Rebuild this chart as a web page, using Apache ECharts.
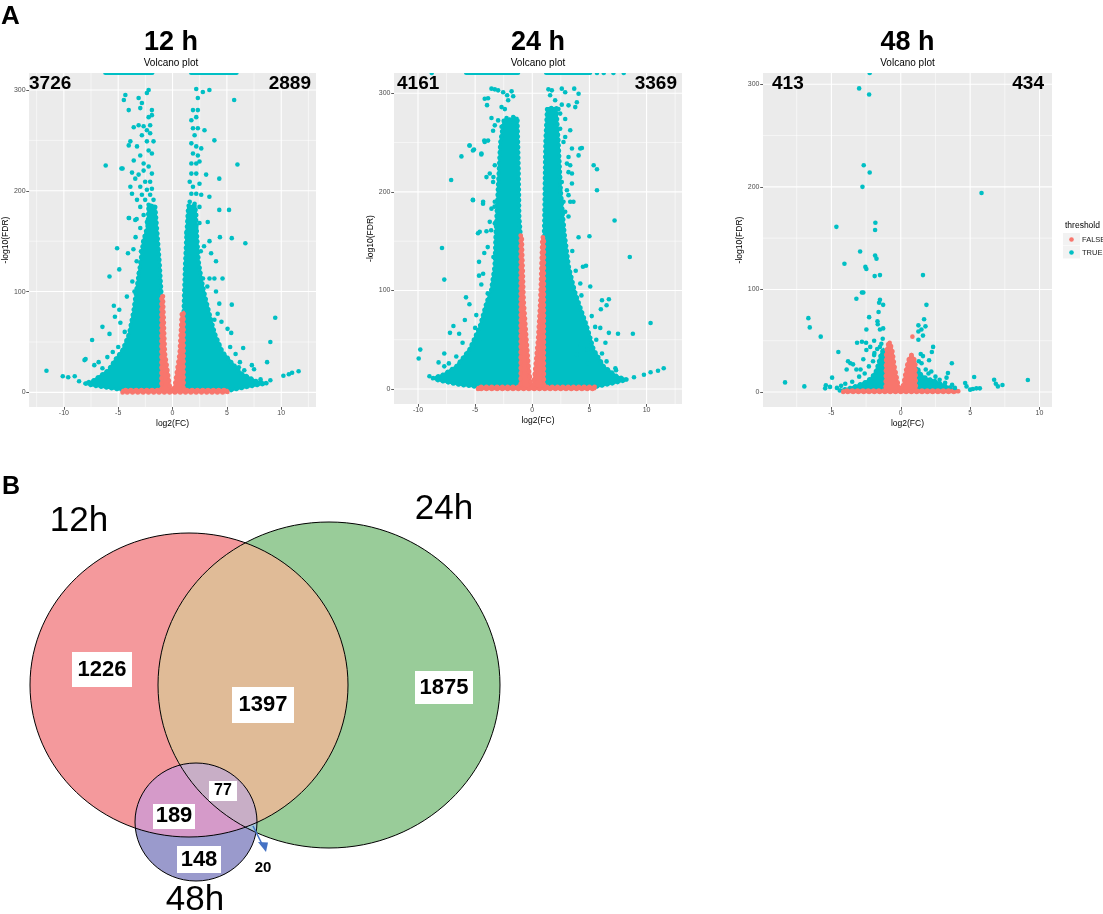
<!DOCTYPE html>
<html>
<head>
<meta charset="utf-8">
<script src="https://cdn.jsdelivr.net/npm/echarts@6/dist/echarts.min.js"></script>
<style>
html, body { margin: 0; padding: 0; background: #fff; }
#chart { width: 1103px; height: 914px; }
</style>
</head>
<body>
<div id="chart"></div>
<script>
// ---- data ----
var panelTitles = ['12 h', '24 h', '48 h'];
var downCounts = ['3726', '4161', '413'];
var upCounts = ['2889', '3369', '434'];

var xTicks = [-10, -5, 0, 5, 10];
var yTicks = [0, 100, 200, 300];
var minorX = [-12.5, -7.5, -2.5, 2.5, 7.5, 12.5];
var minorY = [50, 150, 250];

var xRange = [[-13.2, 13.2], [-12.1, 13.1], [-9.93, 10.9]];
var yRange = [[-14.5, 316.8], [-15.2, 320.6], [-14.6, 311]];

// dense clouds, outlined (log2FC, -log10FDR)
var trueCloud12 = [
    [[-2.3, 165], [-2.7, 150], [-3.0, 125], [-3.35, 100], [-3.6, 80], [-4.0, 58], [-4.6, 42], [-5.3, 32], [-5.9, 22], [-7.4, 11], [-8.1, 9], [-7.4, 7], [-5.55, 4], [-4.5, 2.3], [-1.02, 2.3], [-1.02, 97], [-1.2, 130], [-1.45, 165], [-1.6, 185], [-2.2, 185]],
    [[1.02, 2.3], [5.4, 2.3], [6.9, 5.6], [8.7, 9], [7.8, 10.5], [6.3, 19], [5.4, 30], [4.6, 40], [3.9, 58], [3.4, 78], [3.0, 95], [2.7, 110], [2.4, 130], [2.2, 165], [2.1, 185], [1.45, 185], [1.3, 160], [1.15, 125], [1.02, 80]]
];
var falseCloud12 = [
    [[-4.6, 0], [-4.6, 2.3], [-1.02, 2.3], [-1.02, 96], [-0.88, 96], [-0.7, 39], [-0.25, 6], [0, 0.6], [0.2, 6], [0.65, 39], [0.85, 78], [1.02, 80], [1.02, 2.3], [5.05, 2.3], [5.05, 0]]
];
var trueCloud24 = [
    [[-2.5, 272], [-2.8, 250], [-3.0, 205], [-3.2, 158], [-3.3, 124], [-3.6, 100], [-4.0, 88], [-4.6, 63], [-5.5, 40], [-6.65, 23], [-7.8, 14.5], [-8.7, 11], [-8.4, 9.4], [-6.4, 4.4], [-4.75, 2.2], [-1.02, 2.2], [-1.02, 156], [-1.14, 175], [-1.2, 225], [-1.3, 275]],
    [[1.02, 2.2], [5.5, 2.2], [7.1, 6], [8.3, 9.4], [7.4, 12.8], [6.25, 23], [5.37, 40], [4.8, 63], [4.05, 88], [3.7, 100], [3.2, 124], [2.8, 160], [2.5, 200], [2.3, 250], [2.1, 285], [1.3, 285], [1.15, 250], [1.06, 175], [1.02, 154]]
];
var falseCloud24 = [
    [[-4.75, 0], [-4.75, 2.2], [-1.02, 2.2], [-1.02, 156], [-0.92, 156], [-0.75, 90], [-0.5, 50], [-0.3, 20], [-0.1, 4], [0, 0.6], [0.1, 4], [0.25, 20], [0.5, 50], [0.7, 90], [0.88, 154], [1.02, 154], [1.02, 2.2], [5.5, 2.2], [5.5, 0]]
];
var trueCloud48 = [
    [[-4.4, 1.5], [-3.6, 4], [-3.0, 7], [-2.5, 10], [-2.1, 14], [-1.8, 20], [-1.6, 28], [-1.45, 36], [-1.25, 42], [-1.1, 38], [-1.1, 1.5]],
    [[1.1, 1.5], [1.1, 24], [1.25, 22], [1.5, 16], [1.9, 13], [2.4, 11], [2.9, 8], [3.4, 5], [4.1, 1.5]]
];
var falseCloud48 = [
    [[-4.15, 0], [-4.15, 1.5], [-1.1, 1.5], [-1.05, 40], [-0.9, 47], [-0.75, 47], [-0.6, 40], [-0.45, 25], [-0.2, 8], [0, 0.5], [0.2, 8], [0.43, 25], [0.6, 33], [0.77, 36], [0.95, 33], [1.05, 28], [1.1, 1.5], [4.15, 1.5], [4.15, 0]]
];

// points off the top of the panel (x ranges and single x)
var topStrips = [[[-6.2, -1.85], [1.7, 5.9]], [[-5.8, -1.23], [1.2, 5.07]], []];
var topDots = [[], [-8.8, 5.66, 6.25, 7.1, 8.0], [-2.24]];

// single points
var trueDots12 = [
    [-11.6, 21.5], [-10.1, 16], [-9.6, 15], [-9.0, 16], [-8.6, 11], [-8.1, 32], [-8.0, 33], [-7.4, 52], [-7.2, 27], [-6.45, 65], [-6.45, 24], [-6.15, 225], [-5.8, 58], [-5.8, 115], [-5.4, 86], [-5.1, 143], [-4.9, 122], [-4.7, 222], [-4.9, 82], [-4.8, 69], [-4.0, 173], [-4.1, 138], [-3.6, 142], [-3.3, 172], [-3.4, 154],
    [-3.5, 100], [-3.7, 110], [-4.2, 95], [-3.3, 130], [-4.4, 60], [-5.0, 45], [-5.5, 40], [-6.0, 35], [-6.8, 30], [-5.3, 75], [-2.9, 140], [-3.1, 118],
    [-4.34, 295], [-4.48, 290], [-3.12, 292], [-2.82, 287], [-2.2, 300], [-2.36, 297], [-4.03, 280], [-2.97, 282], [-1.9, 280], [-2.2, 273], [-1.9, 275], [-3.57, 263], [-3.12, 265], [-2.66, 264], [-2.06, 265], [-2.36, 260], [-2.06, 257], [-2.82, 255], [-3.88, 249], [-4.03, 245], [-3.27, 244], [-2.36, 249], [-1.75, 249], [-2.2, 240], [-1.9, 237], [-3.57, 230], [-2.97, 235], [-2.66, 227], [-4.6, 222], [-3.73, 218], [-2.66, 220], [-2.2, 224], [-1.9, 217], [-3.12, 216], [-3.43, 212], [-2.52, 209], [-2.06, 209], [-3.88, 204], [-2.97, 204], [-2.36, 201], [-1.9, 202], [-3.73, 197], [-2.82, 196], [-2.06, 196], [-3.27, 191], [-2.52, 191], [-1.75, 191], [-2.97, 184], [-2.2, 186], [-1.75, 184], [-4.03, 173], [-3.43, 171], [-2.66, 176], [-2.06, 176], [-2.36, 169], [-1.9, 168], [-2.97, 163], [-2.2, 161], [-1.75, 161],
    [2.18, 301], [2.79, 298], [3.39, 300], [2.33, 292], [5.67, 290], [1.88, 280], [2.33, 280], [1.73, 270], [2.18, 273], [1.88, 262], [2.33, 262], [2.94, 260], [2.03, 255], [3.85, 250], [1.73, 247], [2.18, 244], [2.64, 242], [1.88, 237], [2.33, 235], [1.73, 227], [2.18, 227], [2.48, 229], [5.97, 226], [1.73, 217], [2.18, 217], [3.09, 216], [4.3, 212], [1.58, 209], [1.88, 204], [2.48, 207], [1.73, 197], [2.18, 197], [2.64, 196], [3.39, 194], [1.58, 189], [2.03, 187], [2.48, 184], [4.3, 181], [5.2, 181], [1.73, 179], [2.18, 176], [1.43, 171], [1.88, 169], [2.48, 168], [3.24, 169], [1.58, 161], [2.18, 163], [1.27, 158],
    [4.36, 154], [5.45, 153], [6.7, 148], [3.55, 138], [3.85, 113], [4.6, 113], [2.8, 113], [3.4, 113], [5.45, 87], [9.45, 74], [9.0, 50], [6.5, 44], [5.06, 63], [5.4, 59], [6.1, 25], [7.3, 27], [7.5, 23], [8.7, 30], [9.0, 12], [10.2, 16.5], [11.0, 19.5], [11.6, 21], [10.7, 18], [8.1, 13], [6.6, 22], [4.3, 88], [4.15, 78], [3.85, 72],
    [3.4, 150], [2.9, 145], [2.6, 140], [4.0, 100], [4.5, 70], [5.3, 45], [5.8, 38], [6.2, 30], [4.0, 130], [3.2, 105]
];
var trueDots24 = [
    [-9.94, 31], [-9.8, 40], [-8.2, 27], [-7.7, 23], [-7.7, 36], [-7.9, 143], [-7.7, 111], [-7.1, 212], [-7.2, 57], [-6.9, 64], [-6.4, 56], [-6.2, 236], [-5.8, 93], [-5.5, 247], [-5.5, 86], [-6.1, 47], [-5.9, 70], [-5.2, 192], [-5.1, 243], [-4.75, 158], [-4.66, 129], [-4.66, 115], [-4.46, 238], [-4.3, 190], [-4.2, 252], [-3.4, 215], [-3.3, 185], [-3.6, 161], [-3.9, 144], [-4.2, 138], [-3.4, 134], [-4.46, 106], [-4.3, 117], [-3.9, 97], [-4.9, 75], [-5.0, 62], [-4.66, 50], [-5.2, 43], [-6.65, 33], [-7.3, 26], [-5.6, 37], [-9.0, 13],
    [-3.57, 304.7], [-3.28, 304], [-2.99, 303], [-2.55, 301], [-1.81, 302], [-4.16, 294.5], [-3.87, 295], [-2.2, 298], [-1.67, 297], [-2.11, 293], [-3.96, 288], [-2.69, 286], [-2.4, 284], [-3.57, 275], [-2.99, 272.5], [-2.25, 275], [-1.67, 276], [-3.28, 267.5], [-2.69, 266], [-1.96, 271], [-3.43, 262], [-3.87, 252], [-4.16, 250.6], [-5.48, 247], [-5.19, 242], [-4.45, 239], [-3.28, 227], [-3.72, 218.6], [-4.01, 215], [-3.43, 210], [-5.19, 191.6], [-4.31, 188], [-3.28, 190], [-3.57, 183], [-3.72, 169.6], [-3.28, 168], [-4.6, 159.5], [-4.01, 160],
    [1.41, 304], [1.71, 303], [2.58, 304.7], [3.67, 304.7], [4.05, 299.6], [1.56, 298], [2.0, 293], [2.88, 301], [2.58, 288.5], [3.17, 287.8], [3.9, 291], [3.76, 286], [2.29, 284], [1.41, 282.7], [1.56, 277.6], [2.44, 279.4], [2.88, 274], [1.85, 270.8], [1.27, 267.5], [2.44, 264], [3.32, 262.5], [2.88, 255.7], [2.73, 250.6], [3.47, 244], [4.34, 244.5], [4.05, 237], [3.17, 235.4], [3.03, 228.7], [3.32, 227], [5.37, 227], [5.66, 223], [3.17, 220], [3.47, 218.6], [2.58, 210], [3.47, 208.5], [2.44, 201.7], [3.03, 201.7], [5.66, 201.7], [3.17, 196.7], [2.73, 190], [3.32, 190], [2.88, 179.8], [3.17, 175], [2.44, 169.6], [2.73, 166],
    [4.2, 244], [3.6, 190], [7.2, 171], [2.7, 156], [5.0, 155], [4.05, 154], [4.43, 124], [4.7, 125], [4.2, 107], [5.07, 104], [8.53, 134], [6.1, 90], [6.7, 91], [6.5, 85], [6.0, 81], [5.5, 63], [5.2, 74], [5.95, 62], [6.7, 57], [7.5, 56], [8.8, 56], [10.35, 67], [6.4, 47], [6.5, 28], [7.27, 21], [7.33, 19], [8.9, 12], [9.77, 14.5], [10.35, 17], [11.0, 18.6], [11.5, 21], [4.2, 45], [3.9, 35], [4.8, 40], [6.1, 36], [4.9, 26],
    [3.5, 140], [3.8, 120], [4.3, 95], [5.6, 50]
];
var trueDots48 = [
    [-3.0, 296], [-2.28, 290], [-2.67, 221], [-2.24, 214], [-2.76, 200], [5.82, 194], [-4.64, 161], [-1.83, 165], [-1.85, 158], [-2.93, 137], [-1.85, 133], [-1.75, 130], [-4.06, 125], [-2.55, 122], [-2.48, 120], [-1.88, 113], [-1.5, 114], [1.6, 114], [-2.8, 97], [-2.7, 97], [-3.2, 91], [-1.5, 90], [-1.56, 87], [-1.27, 85], [1.85, 85], [-1.6, 78], [-6.66, 72], [-6.56, 63], [-5.77, 54], [-2.28, 73], [-1.68, 69], [-1.66, 66], [-2.48, 61], [-1.5, 61], [-1.27, 62], [1.27, 65], [1.68, 71], [1.78, 64], [1.49, 61], [1.27, 59], [1.6, 55], [1.27, 51], [2.33, 44], [2.24, 39], [-3.15, 48], [-2.8, 49], [-1.92, 50], [-4.5, 39], [-3.63, 28], [-3.9, 22], [-4.95, 14], [-5.1, 5], [-5.4, 6.5], [-5.45, 3.6], [-8.34, 9.4], [-6.95, 5.5],
    [3.68, 28], [3.4, 18.5], [3.3, 14], [2.04, 31], [1.6, 35], [1.44, 37], [5.29, 14.6], [4.64, 8.8], [4.74, 5.5], [5.0, 2.3], [5.7, 3.6], [6.73, 12], [6.85, 8], [7.0, 5.5], [7.33, 6.8], [9.16, 11.7], [5.2, 3], [5.45, 3.6],
    [-2.48, 41], [-2.2, 44], [-1.92, 36], [-2.7, 32], [-3.2, 22], [-3.44, 27], [-3.8, 30], [-2.5, 48], [-1.4, 47], [-1.3, 52], [-1.7, 42], [-1.5, 44],
    [2.5, 15], [2.8, 12], [3.2, 9], [2.0, 18], [1.8, 22], [2.2, 20], [1.5, 28], [1.3, 30], [-2.3, 25], [-2.0, 30], [-1.9, 38], [-2.6, 18], [-3.0, 15], [-3.5, 10], [-4.0, 8], [-2.9, 22], [3.7, 7], [3.9, 4], [-4.6, 4], [-4.3, 6]
];
var falseDots48 = [[0.84, 54], [-0.8, 48], [0.77, 36]];

// Venn counts
var vennSets = ['12h', '24h', '48h'];
var vennCounts = ['1226', '1397', '1875', '189', '77', '148', '20'];

// ---- layout ----
var FONT = "'Liberation Sans', Arial, sans-serif";
var RED = '#F8766D';
var CYAN = '#00BFC4';
var grids = [
    { left: 26, top: 73, width: 290, height: 334 },
    { left: 394, top: 73, width: 288, height: 331 },
    { left: 763, top: 73, width: 289, height: 334 }
];
var trueClouds = [trueCloud12, trueCloud24, trueCloud48];
var falseClouds = [falseCloud12, falseCloud24, falseCloud48];
var trueDots = [trueDots12, trueDots24, trueDots48];
var falseDots = [[], [], falseDots48];

var vennShapes = {
    c12: { cx: 189, cy: 685, rx: 159, ry: 152 },
    c24: { cx: 329, cy: 685, rx: 171, ry: 163 },
    c48: { cx: 196, cy: 822, rx: 61, ry: 59 }
};
// box [x, y, w, h] or null, text centre, font size
var vennLabelPos = [
    { box: [72, 652, 60, 35], c: [102, 670], fs: 22 },
    { box: [232, 687, 62, 36], c: [263, 705], fs: 22 },
    { box: [415, 671, 58, 33], c: [444, 688], fs: 22 },
    { box: [153, 804, 42, 25], c: [174, 816], fs: 22 },
    { box: [209, 781, 28, 20], c: [223, 791], fs: 16 },
    { box: [177, 846, 44, 27], c: [199, 860], fs: 22 },
    { box: null, c: [263, 868], fs: 15 }
];
var vennSetPos = [[79, 521], [444, 509], [195, 900]];

function panelRenderer(i) {
    return function (params, api) {
        var children = [];
        var xr = xRange[i], yr = yRange[i];
        function vline(v, w) {
            var a = api.coord([v, yr[0]]), b = api.coord([v, yr[1]]);
            children.push({ type: 'line', shape: { x1: a[0], y1: a[1], x2: b[0], y2: b[1] }, style: { stroke: '#fff', lineWidth: w } });
        }
        function hline(v, w) {
            var a = api.coord([xr[0], v]), b = api.coord([xr[1], v]);
            children.push({ type: 'line', shape: { x1: a[0], y1: a[1], x2: b[0], y2: b[1] }, style: { stroke: '#fff', lineWidth: w } });
        }
        minorX.forEach(function (v) { if (v > xr[0] && v < xr[1]) vline(v, 0.55); });
        minorY.forEach(function (v) { if (v > yr[0] && v < yr[1]) hline(v, 0.55); });
        xTicks.forEach(function (v) { if (v > xr[0] && v < xr[1]) vline(v, 1.1); });
        yTicks.forEach(function (v) { if (v > yr[0] && v < yr[1]) hline(v, 1.1); });

        // filled cloud plus a beaded edge so the outline reads as single dots
        function poly(pts, color) {
            var p = pts.map(function (d) { return api.coord(d); });
            children.push({
                type: 'polygon', shape: { points: p },
                style: { fill: color, stroke: color, lineWidth: 2.4, lineJoin: 'round' }
            });
            children.push({
                type: 'polygon', shape: { points: p },
                style: { fill: 'none', stroke: color, lineWidth: 4.6, lineCap: 'round', lineDash: [0.1, 5.2] }
            });
        }
        trueClouds[i].forEach(function (p) { poly(p, CYAN); });
        falseClouds[i].forEach(function (p) { poly(p, RED); });

        topStrips[i].forEach(function (s) {
            var a = api.coord([s[0], yr[1]]), b = api.coord([s[1], yr[1]]);
            children.push({ type: 'line', shape: { x1: a[0], y1: a[1], x2: b[0], y2: b[1] }, style: { stroke: CYAN, lineWidth: 4, lineCap: 'round' } });
        });
        topDots[i].forEach(function (x) {
            var c = api.coord([x, yr[1]]);
            children.push({ type: 'circle', shape: { cx: c[0], cy: c[1], r: 2.3 }, style: { fill: CYAN } });
        });
        return { type: 'group', children: children };
    };
}

function ell(s) { return { cx: s.cx, cy: s.cy, rx: s.rx, ry: s.ry }; }

function renderVenn(params, api) {
    var s = vennShapes;
    var kids = [
        { type: 'ellipse', shape: ell(s.c12), style: { fill: '#F4999C' } },
        { type: 'ellipse', shape: ell(s.c24), style: { fill: '#99CC99' } },
        { type: 'ellipse', shape: ell(s.c48), style: { fill: '#9A9ACC' } },
        { type: 'ellipse', shape: ell(s.c24), style: { fill: '#E0BB97' }, clipPath: { type: 'ellipse', shape: ell(s.c12) } },
        { type: 'ellipse', shape: ell(s.c48), style: { fill: '#A6C8DA' }, clipPath: { type: 'ellipse', shape: ell(s.c24) } },
        { type: 'ellipse', shape: ell(s.c48), style: { fill: '#D59AC9' }, clipPath: { type: 'ellipse', shape: ell(s.c12) } },
        {
            type: 'group',
            clipPath: { type: 'ellipse', shape: ell(s.c24) },
            children: [{ type: 'ellipse', shape: ell(s.c48), style: { fill: '#C8AEC6' }, clipPath: { type: 'ellipse', shape: ell(s.c12) } }]
        }
    ];
    ['c12', 'c24', 'c48'].forEach(function (k) {
        kids.push({ type: 'ellipse', shape: ell(s[k]), style: { fill: 'none', stroke: '#000', lineWidth: 1 } });
    });
    vennCounts.forEach(function (t, i) {
        var p = vennLabelPos[i];
        if (p.box) {
            kids.push({ type: 'rect', shape: { x: p.box[0], y: p.box[1], width: p.box[2], height: p.box[3] }, style: { fill: '#fff' } });
        }
        kids.push({ type: 'text', style: { text: t, x: p.c[0], y: p.c[1], fill: '#000', fontSize: p.fs, fontWeight: 'bold', fontFamily: FONT, align: 'center', verticalAlign: 'middle' } });
    });
    vennSets.forEach(function (t, i) {
        kids.push({ type: 'text', style: { text: t, x: vennSetPos[i][0], y: vennSetPos[i][1], fill: '#000', fontSize: 35, fontFamily: FONT, align: 'center', verticalAlign: 'middle' } });
    });
    // arrow to the "20" region
    kids.push({ type: 'line', shape: { x1: 253, y1: 826, x2: 262, y2: 844 }, style: { stroke: '#4472C4', lineWidth: 1.6 } });
    kids.push({ type: 'polygon', shape: { points: [[258, 842], [268, 842.5], [266, 852]] }, style: { fill: '#4472C4' } });
    return { type: 'group', children: kids };
}

var option = {
    backgroundColor: '#fff',
    animation: false,
    textStyle: { fontFamily: FONT },
    title: [],
    grid: [],
    xAxis: [],
    yAxis: [],
    series: [],
    graphic: [
        { type: 'text', style: { text: 'threshold', x: 1065, y: 226, fontSize: 8.5, fontFamily: FONT, fill: '#000', verticalAlign: 'middle' } },
        { type: 'rect', shape: { x: 1063, y: 233, width: 17, height: 12.5 }, style: { fill: '#F2F2F2' } },
        { type: 'rect', shape: { x: 1063, y: 246, width: 17, height: 12.5 }, style: { fill: '#F2F2F2' } },
        { type: 'circle', shape: { cx: 1071.5, cy: 239.5, r: 2.3 }, style: { fill: RED } },
        { type: 'circle', shape: { cx: 1071.5, cy: 252.5, r: 2.3 }, style: { fill: CYAN } },
        { type: 'text', style: { text: 'FALSE', x: 1082, y: 239.5, fontSize: 7.5, fontFamily: FONT, fill: '#1a1a1a', verticalAlign: 'middle' } },
        { type: 'text', style: { text: 'TRUE', x: 1082, y: 252.5, fontSize: 7.5, fontFamily: FONT, fill: '#1a1a1a', verticalAlign: 'middle' } }
    ]
};

option.title.push({ text: 'A', left: 1, top: 4, padding: 0, textStyle: { fontSize: 26, fontWeight: 'bold', color: '#000' } });
option.title.push({ text: 'B', left: 2, top: 475, padding: 0, textStyle: { fontSize: 25, fontWeight: 'bold', color: '#000' } });

for (var i = 0; i < 3; i++) {
    var g = grids[i];
    var cx = g.left + g.width / 2;
    option.grid.push({ left: g.left, top: g.top, width: g.width, height: g.height, show: true, backgroundColor: '#EBEBEB', borderWidth: 0 });
    option.title.push({ text: panelTitles[i], left: cx, top: 29, padding: 0, textAlign: 'center', textStyle: { fontSize: 27, fontWeight: 'bold', color: '#000' } });
    option.title.push({ text: 'Volcano plot', left: cx, top: 58, padding: 0, textAlign: 'center', textStyle: { fontSize: 10, fontWeight: 'normal', color: '#000' } });
    option.title.push({ text: downCounts[i], left: g.left + (i === 2 ? 9 : 3), top: 74, padding: 0, textStyle: { fontSize: 19, fontWeight: 'bold', color: '#000' } });
    option.title.push({ text: upCounts[i], left: g.left + g.width - (i === 2 ? 8 : 5), top: 74, padding: 0, textAlign: 'right', textStyle: { fontSize: 19, fontWeight: 'bold', color: '#000' } });

    option.xAxis.push({
        type: 'value', gridIndex: i, min: xRange[i][0], max: xRange[i][1], splitNumber: 5,
        name: 'log2(FC)', nameLocation: 'middle', nameGap: 12,
        nameTextStyle: { fontSize: 8.5, color: '#000' },
        axisLine: { show: false, onZero: false },
        axisTick: { show: true, length: 2.8, customValues: xTicks, lineStyle: { color: '#333', width: 0.8 } },
        axisLabel: { fontSize: 7, color: '#4D4D4D', margin: 3, customValues: xTicks },
        splitLine: { show: false }
    });
    option.yAxis.push({
        type: 'value', gridIndex: i, min: yRange[i][0], max: yRange[i][1], splitNumber: 3,
        name: '-log10(FDR)', nameLocation: 'middle', nameGap: 17, nameRotate: 90,
        nameTextStyle: { fontSize: 8.5, color: '#000' },
        axisLine: { show: false, onZero: false },
        axisTick: { show: true, length: 2.8, customValues: yTicks, lineStyle: { color: '#333', width: 0.8 } },
        axisLabel: { fontSize: 7, color: '#4D4D4D', margin: 3.5, customValues: yTicks },
        splitLine: { show: false }
    });

    option.series.push({
        type: 'custom', name: 'cloud' + i, xAxisIndex: i, yAxisIndex: i, clip: true, silent: true,
        data: [[0, 0]], renderItem: panelRenderer(i), z: 1
    });
    option.series.push({
        type: 'scatter', name: 'FALSE', xAxisIndex: i, yAxisIndex: i, symbolSize: 4.6, silent: true,
        itemStyle: { color: RED, opacity: 1 }, data: falseDots[i], z: 2
    });
    option.series.push({
        type: 'scatter', name: 'TRUE', xAxisIndex: i, yAxisIndex: i, symbolSize: 4.6, silent: true,
        itemStyle: { color: CYAN, opacity: 1 }, data: trueDots[i], z: 2
    });
}

option.series.push({
    type: 'custom', name: 'venn', coordinateSystem: 'none', silent: true,
    data: [[0]], renderItem: renderVenn
});

var chart = echarts.init(document.getElementById('chart'));
chart.setOption(option);
</script>
</body>
</html>
